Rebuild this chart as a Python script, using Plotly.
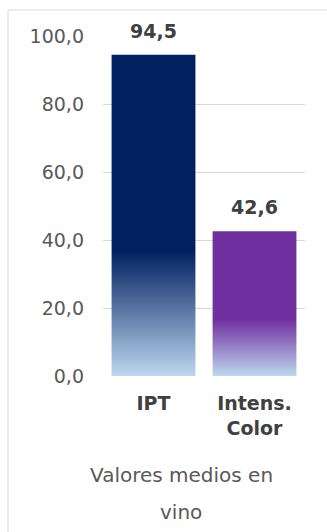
import plotly.graph_objects as go

categories = ["IPT", "Intens.<br>Color"]
values = [94.5, 42.6]
top_colors = ["#002060", "#7030A0"]
bottom_colors = ["#BDD7EE", "#BDD7EE"]
y_ticks = [0, 20, 40, 60, 80, 100]
axis_title_lines = ["Valores medios en", "vino"]

W, H = 327, 532
L, R, T, B = 103, 22, 36, 156
PW, PH = W - L - R, H - T - B
bar_w = 0.83
FONT = "DejaVu Sans"

fig = go.Figure()
for i, (cat, v) in enumerate(zip(categories, values)):
    x0, x1 = i - bar_w / 2, i + bar_w / 2
    fig.add_trace(go.Scatter(
        x=[x0, x1, x1, x0, x0], y=[0, 0, v, v, 0],
        mode="lines", fill="toself", line=dict(width=0),
        fillgradient=dict(type="vertical",
                          colorscale=[[0, bottom_colors[i]], [0.39, top_colors[i]], [1, top_colors[i]]]),
        hoverinfo="skip", showlegend=False,
    ))
    fig.add_annotation(x=i, y=v, text="<b>%s</b>" % f"{v:.1f}".replace(".", ","),
                       showarrow=False, yanchor="bottom", yshift=11,
                       font=dict(family=FONT, size=19, color="#404040"))

for k, (line, ypx) in enumerate(zip(axis_title_lines, [475, 512])):
    fig.add_annotation(xref="paper", yref="paper", x=(181 - L) / PW, y=-(ypx - (T + PH)) / PH,
                       text=line, showarrow=False, yanchor="middle",
                       font=dict(family=FONT, size=20, color="#595959"))

# chart border
fig.add_shape(type="rect", xref="paper", yref="paper",
              x0=(8 - L) / PW, x1=2, y0=-2, y1=1 + (T - 10) / PH,
              line=dict(color="#D9D9D9", width=1), layer="below")

fig.update_layout(
    width=W, height=H, margin=dict(l=L, r=R, t=T, b=B),
    paper_bgcolor="white", plot_bgcolor="white",
    separators=",.",
    showlegend=False,
    xaxis=dict(range=[-0.5, 1.5], tickvals=[0, 1],
               ticktext=["<b>%s</b>" % c for c in categories],
               showgrid=False, zeroline=False, showline=False, ticks="",
               ticklabelstandoff=14,
               tickfont=dict(family=FONT, size=19, color="#404040"),
               fixedrange=True),
    yaxis=dict(range=[0, 100], tickvals=y_ticks, tickformat=".1f",
               showgrid=True, gridcolor="#D9D9D9", gridwidth=1,
               zeroline=False, showline=False, ticks="",
               ticklabelstandoff=18,
               tickfont=dict(family=FONT, size=19, color="#595959"),
               fixedrange=True),
)

fig.write_html("out.html")
